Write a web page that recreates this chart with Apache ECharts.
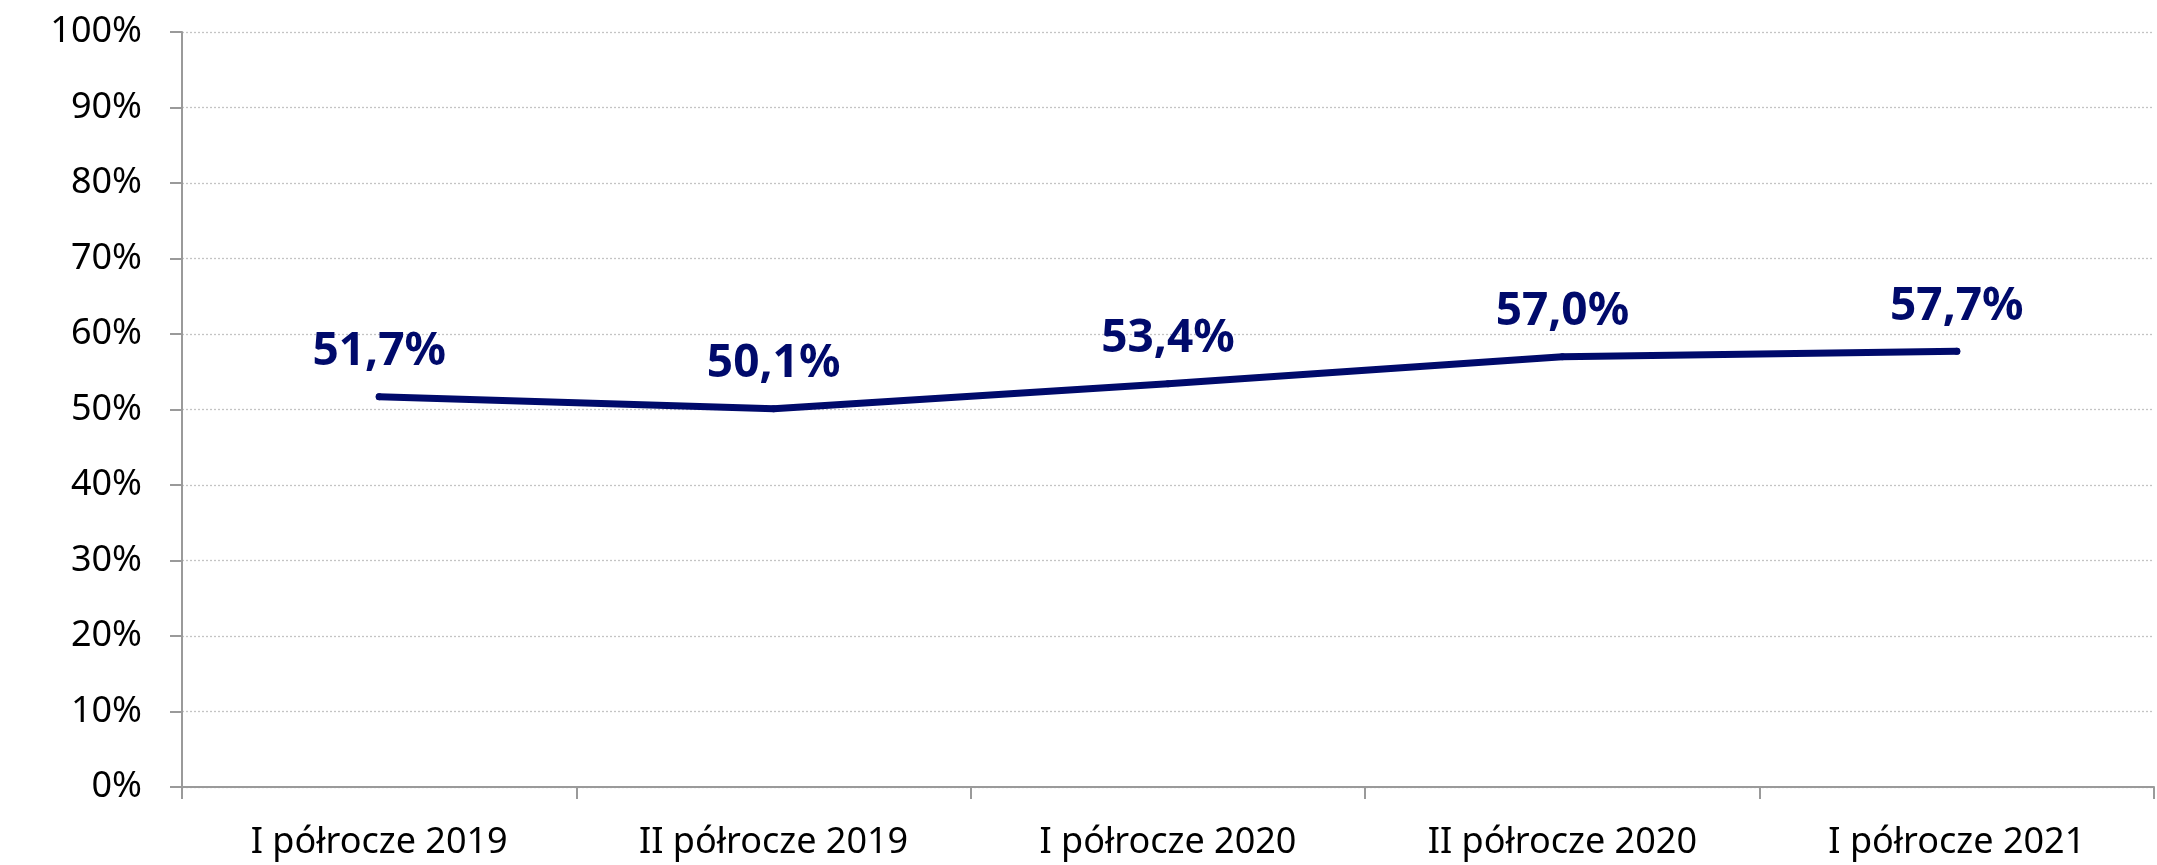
<!DOCTYPE html>
<html>
<head>
<meta charset="utf-8">
<script src="https://cdn.jsdelivr.net/npm/echarts@6/dist/echarts.min.js"></script>
<style>
    html, body { margin: 0; padding: 0; background: #fff; }
    #main { width: 2157px; height: 865px; }
</style>
</head>
<body>
<div id="main"></div>
<script>
// kategorie (półrocza)
let categories = ['I półrocze 2019', 'II półrocze 2019', 'I półrocze 2020', 'II półrocze 2020', 'I półrocze 2021'];
// wartości w %
let values = [51.7, 50.1, 53.4, 57.0, 57.7];
// podziałka osi Y
let yMin = 0;
let yMax = 100;
let yStep = 10;

let navy = '#000a6b';
let axisGray = '#9a9a9a';

let myChart = echarts.init(document.getElementById('main'));
let option = {
    animation: false,
    textStyle: { fontFamily: 'Noto Sans' },
    grid: {
        left: 182,
        right: 3,
        top: 32,
        bottom: 78
    },
    xAxis: {
        type: 'category',
        data: categories,
        boundaryGap: true,
        axisLine: { lineStyle: { color: axisGray, width: 2 } },
        axisTick: { show: true, length: 12, lineStyle: { color: axisGray, width: 2 } },
        axisLabel: {
            color: '#000',
            fontSize: 36,
            margin: 38
        },
        splitLine: { show: false }
    },
    yAxis: {
        type: 'value',
        min: yMin,
        max: yMax,
        interval: yStep,
        axisLine: { show: true, lineStyle: { color: axisGray, width: 2 } },
        axisTick: { show: true, length: 12, lineStyle: { color: axisGray, width: 2 } },
        axisLabel: {
            color: '#000',
            fontSize: 36,
            margin: 40,
            formatter: '{value}%'
        },
        splitLine: {
            show: true,
            lineStyle: { color: '#c4c4c4', type: [2, 2], width: 1.3 }
        }
    },
    series: [{
        type: 'line',
        data: values,
        symbol: 'circle',
        symbolSize: 7,
        itemStyle: { color: navy, borderWidth: 0 },
        lineStyle: { color: navy, width: 7, cap: 'round', join: 'round' },
        label: {
            show: true,
            position: 'top',
            distance: 18,
            color: navy,
            fontSize: 46,
            lineHeight: 46,
            fontWeight: 'bold',
            formatter: function (p) {
                return p.value.toFixed(1).replace('.', ',') + '%';
            }
        }
    }]
};
myChart.setOption(option);
</script>
</body>
</html>
